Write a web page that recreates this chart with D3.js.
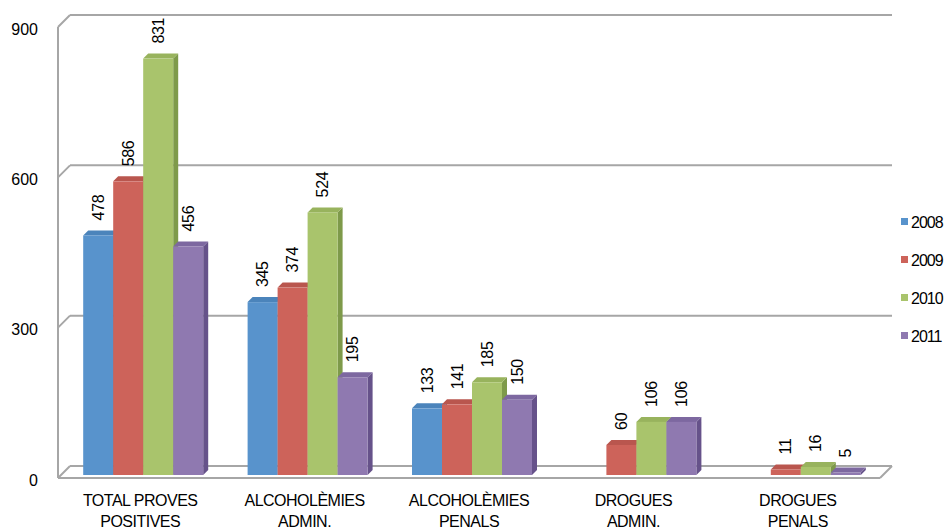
<!DOCTYPE html>
<html>
<head>
<meta charset="utf-8">
<script src="https://cdn.jsdelivr.net/npm/d3@7"></script>
<style>
  html, body { margin: 0; padding: 0; background: #fff; }
  svg { display: block; font-family: "Liberation Sans", Arial, sans-serif; }
</style>
</head>
<body>
<svg id="chart" width="951" height="530"></svg>
<script>
// ---- data ----
const categories = [
  ["TOTAL PROVES", "POSITIVES"],
  ["ALCOHOLÈMIES", "ADMIN."],
  ["ALCOHOLÈMIES", "PENALS"],
  ["DROGUES", "ADMIN."],
  ["DROGUES", "PENALS"]
];
const seriesNames = ["2008", "2009", "2010", "2011"];
const values2008 = [478, 345, 133, null, null];
const values2009 = [586, 374, 141, 60, 11];
const values2010 = [831, 524, 185, 106, 16];
const values2011 = [456, 195, 150, 106, 5];
const seriesValues = [values2008, values2009, values2010, values2011];
const tickValues = [0, 300, 600, 900];

// ---- styles ----
const colors = [
  { front: "#5893cc", side: "#3e6d9c", top: "#4b84bb" },
  { front: "#cd635a", side: "#9e4741", top: "#b9564e" },
  { front: "#a9c46c", side: "#7e9a4a", top: "#98b35d" },
  { front: "#8f79b0", side: "#66528a", top: "#7d68a0" }
];
const gridColor = "#a6a6a6";

const svg = d3.select("#chart");

// ---- geometry ----
const frontLeft = 58, frontRight = 880;
const depthX = 12, depthY = -12;   // floor / wall depth
const barOffX = 3, barOffY = -3;   // bar front plane offset
const barDepth = 5;

const y = d3.scaleLinear().domain([0, 900]).range([478, 27]);
const x0 = d3.scaleBand().domain(d3.range(categories.length))
  .range([frontLeft, frontRight]).paddingInner(0).paddingOuter(0);
const barW = 30;
const x1 = d3.scaleBand().domain(d3.range(seriesNames.length))
  .range([0, barW * seriesNames.length]);

// ---- back wall gridlines ----
const grid = svg.append("g").attr("stroke", gridColor).attr("stroke-width", 2).attr("fill", "none");
tickValues.forEach(v => {
  grid.append("line")
    .attr("x1", frontLeft + depthX).attr("x2", frontRight + depthX)
    .attr("y1", y(v) + depthY).attr("y2", y(v) + depthY);
  grid.append("line")
    .attr("x1", frontLeft).attr("x2", frontLeft + depthX)
    .attr("y1", y(v)).attr("y2", y(v) + depthY);
});
// left front axis
grid.append("line")
  .attr("x1", frontLeft).attr("x2", frontLeft)
  .attr("y1", y(900)).attr("y2", y(0));
// floor front + right edge
grid.append("line")
  .attr("x1", frontLeft).attr("x2", frontRight)
  .attr("y1", y(0)).attr("y2", y(0));
grid.append("line")
  .attr("x1", frontRight).attr("x2", frontRight + depthX)
  .attr("y1", y(0)).attr("y2", y(0) + depthY);

// ---- tick labels ----
const yAxis = d3.axisLeft(y).tickValues(tickValues).tickSize(0).tickPadding(0);
const axG = svg.append("g").attr("transform", "translate(38,2)").call(yAxis);
axG.select(".domain").remove();
axG.selectAll("text")
  .attr("font-family", "Liberation Sans, Arial, sans-serif")
  .attr("font-size", 16).attr("fill", "#000");

// ---- bars ----
const barsG = svg.append("g");
const labelsG = svg.append("g");
categories.forEach((cat, ci) => {
  const groupStart = x0(ci) + (x0.bandwidth() - barW * seriesNames.length) / 2 + barOffX;
  seriesNames.forEach((s, si) => {
    const v = seriesValues[si][ci];
    if (v == null) return;
    const c = colors[si];
    const bx = groupStart + x1(si);
    const by0 = y(0) + barOffY;
    const byt = y(v) + barOffY;
    const d = barDepth;
    // side face
    barsG.append("path")
      .attr("d", `M${bx + barW},${by0} L${bx + barW + d},${by0 - d} L${bx + barW + d},${byt - d} L${bx + barW},${byt} Z`)
      .attr("fill", c.side);
    // top face
    barsG.append("path")
      .attr("d", `M${bx},${byt} L${bx + d},${byt - d} L${bx + barW + d},${byt - d} L${bx + barW},${byt} Z`)
      .attr("fill", c.top);
    // front face
    barsG.append("rect")
      .attr("x", bx).attr("y", byt)
      .attr("width", barW).attr("height", by0 - byt)
      .attr("fill", c.front);
    // value label (rotated)
    const lx = bx + barW / 2, ly = byt - 15;
    labelsG.append("text")
      .attr("transform", `translate(${lx},${ly}) rotate(-90)`)
      .attr("text-anchor", "start")
      .attr("dominant-baseline", "central")
      .attr("font-size", 16)
      .attr("letter-spacing", -0.3)
      .attr("fill", "#000")
      .text(v);
  });
  // category labels
  const cx = x0(ci) + x0.bandwidth() / 2;
  const t = svg.append("text")
    .attr("text-anchor", "middle")
    .attr("font-size", 16)
    .attr("letter-spacing", -0.5)
    .attr("fill", "#000");
  cat.forEach((line, li) => {
    t.append("tspan").attr("x", cx).attr("y", 506 + li * 21).text(line);
  });
});

// ---- legend ----
const legend = svg.append("g");
seriesNames.forEach((s, si) => {
  const base = 228 + si * 38;
  legend.append("rect")
    .attr("x", 901).attr("y", base - 10)
    .attr("width", 7).attr("height", 7)
    .attr("fill", colors[si].front);
  legend.append("text")
    .attr("x", 911).attr("y", base)
    .attr("font-size", 16)
    .attr("letter-spacing", -1)
    .attr("fill", "#000")
    .text(s);
});
</script>
</body>
</html>
